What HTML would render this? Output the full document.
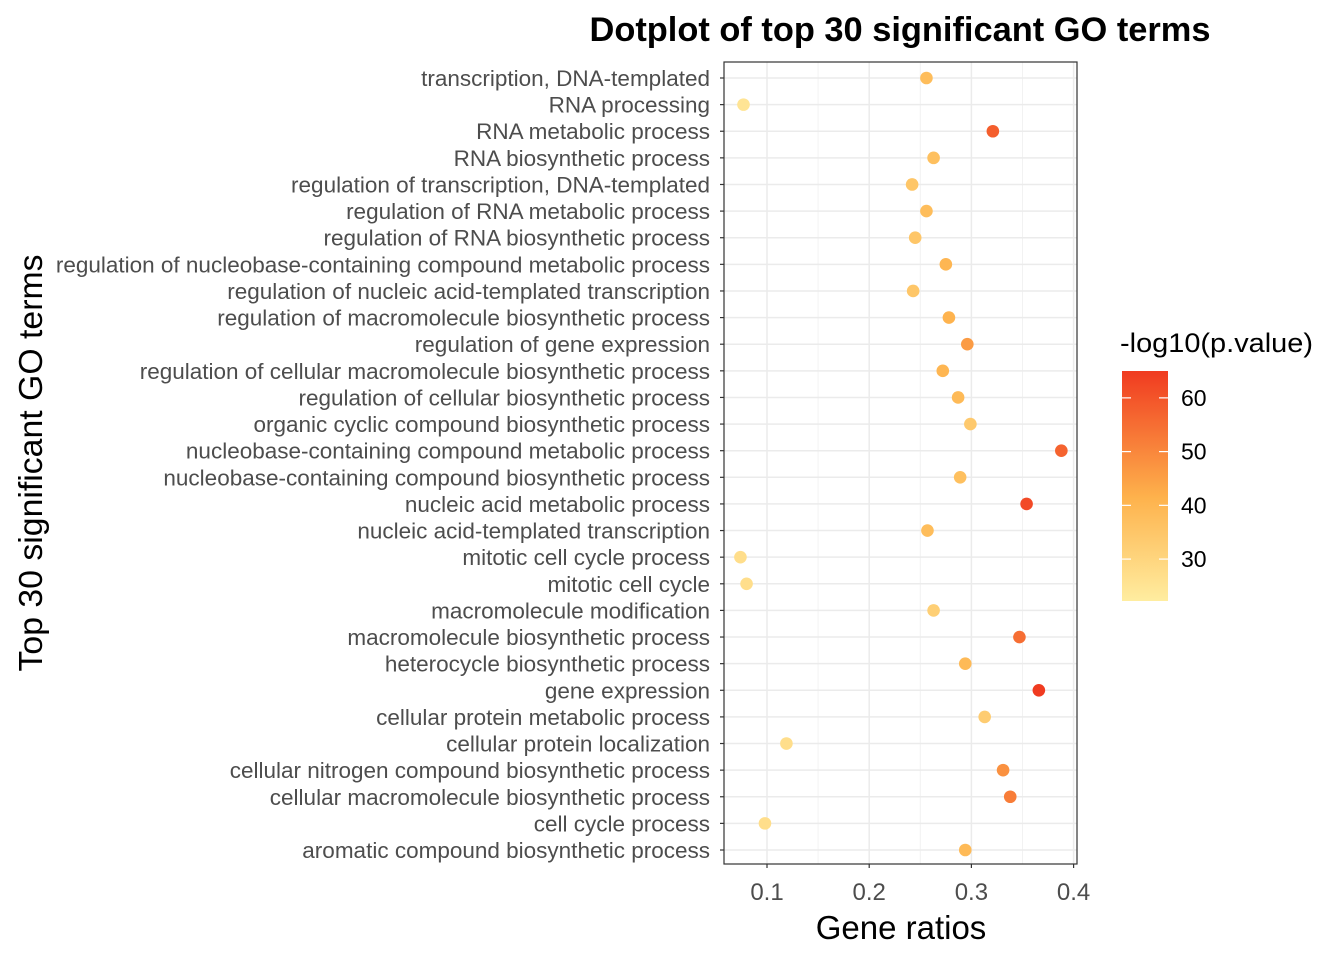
<!DOCTYPE html>
<html><head><meta charset="utf-8"><style>
body{margin:0;background:#fff;}
svg text{font-family:"Liberation Sans",Arial,sans-serif;}
</style></head><body>
<svg id="chart" width="1344" height="960" xmlns="http://www.w3.org/2000/svg">
<defs><linearGradient id="cg" x1="0" y1="1" x2="0" y2="0">
<stop offset="0" stop-color="#FFEDA0"/><stop offset="0.45" stop-color="#FEB24C"/><stop offset="1" stop-color="#F03B20"/>
</linearGradient></defs>
<g id="grid"></g><g id="dots"></g><g id="ylabels"></g><g id="xticks"></g>
<text x="900" y="41" text-anchor="middle" font-size="34" font-weight="bold" textLength="621" lengthAdjust="spacingAndGlyphs">Dotplot of top 30 significant GO terms</text>
<text x="901" y="939" text-anchor="middle" font-size="33">Gene ratios</text>
<text transform="translate(42,463) rotate(-90)" text-anchor="middle" font-size="33" textLength="417" lengthAdjust="spacingAndGlyphs">Top 30 significant GO terms</text>
<g>
<text x="1120" y="352" font-size="27" textLength="193" lengthAdjust="spacingAndGlyphs">-log10(p.value)</text>
<rect x="1122" y="371" width="46" height="230" fill="url(#cg)"/>
<g id="legticks"></g>
</g>
</svg>
<script>
const terms=["transcription, DNA-templated","RNA processing","RNA metabolic process","RNA biosynthetic process","regulation of transcription, DNA-templated","regulation of RNA metabolic process","regulation of RNA biosynthetic process","regulation of nucleobase-containing compound metabolic process","regulation of nucleic acid-templated transcription","regulation of macromolecule biosynthetic process","regulation of gene expression","regulation of cellular macromolecule biosynthetic process","regulation of cellular biosynthetic process","organic cyclic compound biosynthetic process","nucleobase-containing compound metabolic process","nucleobase-containing compound biosynthetic process","nucleic acid metabolic process","nucleic acid-templated transcription","mitotic cell cycle process","mitotic cell cycle","macromolecule modification","macromolecule biosynthetic process","heterocycle biosynthetic process","gene expression","cellular protein metabolic process","cellular protein localization","cellular nitrogen compound biosynthetic process","cellular macromolecule biosynthetic process","cell cycle process","aromatic compound biosynthetic process"];
const ratios=[0.256,0.077,0.321,0.263,0.242,0.256,0.245,0.275,0.243,0.278,0.296,0.272,0.287,0.299,0.388,0.289,0.354,0.257,0.074,0.080,0.263,0.347,0.294,0.366,0.313,0.119,0.331,0.338,0.098,0.294];
const pvals=[38,25,58,37,35,38,35,40,35,41,46,40,39,34,57,37,62,38,27,27,32,55,39,65,33,27,48,52,27,39];
const xTicks=[0.1,0.2,0.3,0.4];
const xMinor=[0.15,0.25,0.35];
const legTicks=[30,40,50,60];
const NS="http://www.w3.org/2000/svg";
const L=724,R=1077,T=62,B=864;
const x=v=>767+(v-0.1)*1022;
const y=i=>78+i*(850-78)/29;
const cy=v=>601-(v-22.2)/(65-22.2)*230;
function mk(t,a,p){const e=document.createElementNS(NS,t);for(const k in a)e.setAttribute(k,a[k]);p.appendChild(e);return e;}
function lerp(a,b,t){return a.map((v,i)=>Math.round(v+(b[i]-v)*t));}
function col(v){let t=(v-22.2)/(65-22.2);t=Math.max(0,Math.min(1,t));const c0=[255,237,160],c1=[254,178,76],c2=[240,59,32];const c=t<0.45?lerp(c0,c1,t/0.45):lerp(c1,c2,(t-0.45)/0.55);return `rgb(${c})`;}
const g=document.getElementById('grid');
mk('rect',{x:L,y:T,width:R-L,height:B-T,fill:'#fff'},g);
xMinor.forEach(v=>{const l=mk('line',{x1:x(v),x2:x(v),y1:T,y2:B,stroke:'#f2f2f2','stroke-width':1},g);});
xTicks.forEach(v=>{const l=mk('line',{x1:x(v),x2:x(v),y1:T,y2:B,stroke:'#ebebeb','stroke-width':1.5},g);});
terms.forEach((t,i)=>{const l=mk('line',{x1:L,x2:R,y1:y(i),y2:y(i),stroke:'#ebebeb','stroke-width':1.5},g);});
const br=mk('rect',{x:L,y:T,width:R-L,height:B-T,fill:'none',stroke:'#333','stroke-width':1.2},g);


const d=document.getElementById('dots'),yl=document.getElementById('ylabels'),xt=document.getElementById('xticks');
terms.forEach((t,i)=>{
 const c=mk('circle',{cx:x(ratios[i]),cy:y(i),r:6.3,fill:col(pvals[i])},d);
 
 
 const tk=mk('line',{x1:L-4,x2:L,y1:y(i),y2:y(i),stroke:'#333','stroke-width':1.2},yl);
 
 
 const tx=mk('text',{x:L-14,y:y(i)+8,'text-anchor':'end','font-size':22.5,fill:'#4d4d4d'},yl);
 tx.textContent=t;
 
 
});
xTicks.forEach(v=>{
 const tk=mk('line',{x1:x(v),x2:x(v),y1:B,y2:B+4,stroke:'#333','stroke-width':1.2},xt);
 
 
 const tx=mk('text',{x:x(v),y:B+36,'text-anchor':'middle','font-size':24,fill:'#4d4d4d'},xt);
 tx.textContent=v.toFixed(1);
 
 
});
const lt=document.getElementById('legticks');
legTicks.forEach(v=>{
 mk('line',{x1:1122,x2:1131,y1:cy(v),y2:cy(v),stroke:'#fff','stroke-width':1.2},lt);
 mk('line',{x1:1159,x2:1168,y1:cy(v),y2:cy(v),stroke:'#fff','stroke-width':1.2},lt);
 const tx=mk('text',{x:1181,y:cy(v)+8,'font-size':23,fill:'#000'},lt);
 tx.textContent=v;
 
 
});
</script>
</body></html>
